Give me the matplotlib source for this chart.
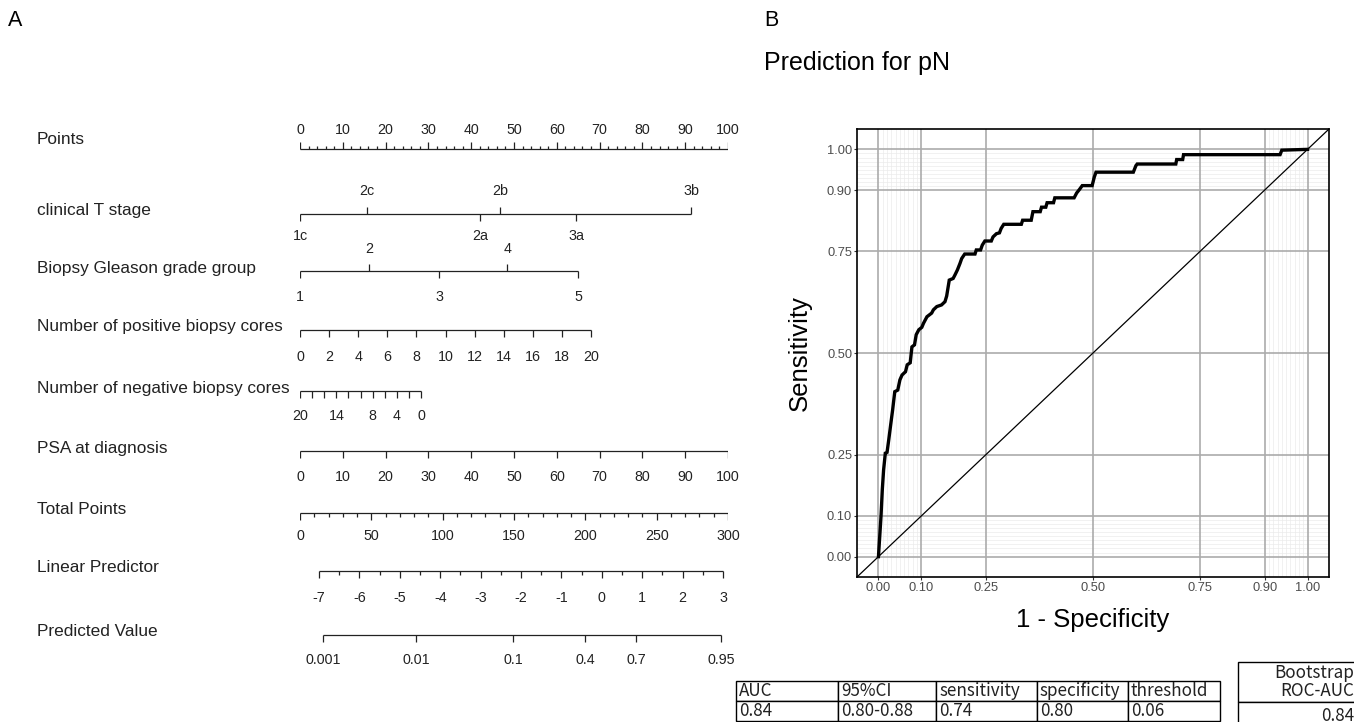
import numpy as np
import matplotlib.pyplot as plt
import matplotlib.transforms as mtransforms

plt.rcParams['font.family'] = ['Liberation Sans', 'DejaVu Sans']

W, H = 1354, 722

# ---------------- nomogram (panel A) ----------------
points_ticks = list(range(0, 101, 10))
t_stage = ['1c', '2c', '2a', '2b', '3a', '3b']
t_stage_pts = [0, 15.7, 42.0, 46.7, 64.5, 91.4]
t_stage_up = [False, True, False, True, False, True]
gleason = [1, 2, 3, 4, 5]
gleason_pts = [0, 16.1, 32.5, 48.4, 65.0]
gleason_up = [False, True, False, True, False]
pos_cores = list(range(0, 21, 2))
pos_pts_per_core = 3.4
neg_cores = list(range(20, -1, -2))
neg_labels = [20, 14, 8, 4, 0]
neg_pts_per_core = 1.415
psa_ticks = list(range(0, 101, 10))
total_ticks = list(range(0, 301, 50))
total_minor = [v for v in range(0, 301, 10) if v % 50]
lp_ticks = list(range(-7, 4))
lp_minor = [v + 0.5 for v in range(-7, 3)]
lp_intercept = -7.470
lp_slope = 0.03531
pred_ticks = [0.001, 0.01, 0.1, 0.4, 0.7, 0.95]
pred_labels = ['0.001', '0.01', '0.1', '0.4', '0.7', '0.95']

row_names = ['Points', 'clinical T stage', 'Biopsy Gleason grade group',
             'Number of positive biopsy cores', 'Number of negative biopsy cores',
             'PSA at diagnosis', 'Total Points', 'Linear Predictor', 'Predicted Value']

# ---------------- ROC (panel B) ----------------
fpr = [0.000, 0.003, 0.006, 0.009, 0.012, 0.016, 0.020, 0.024, 0.030, 0.033,
       0.038, 0.045, 0.050, 0.055, 0.063, 0.067, 0.074, 0.078, 0.084, 0.088,
       0.094, 0.101, 0.105, 0.113, 0.124, 0.128, 0.136, 0.147, 0.155, 0.159,
       0.165, 0.174, 0.178, 0.184, 0.190, 0.194, 0.201, 0.225, 0.228, 0.238,
       0.242, 0.248, 0.263, 0.267, 0.275, 0.282, 0.286, 0.292, 0.333, 0.336,
       0.356, 0.360, 0.377, 0.380, 0.390, 0.393, 0.408, 0.411, 0.456, 0.462,
       0.468, 0.475, 0.498, 0.503, 0.507, 0.594, 0.600, 0.603, 0.693, 0.695,
       0.709, 0.711, 0.936, 0.940, 1.000]
tpr = [0.000, 0.050, 0.100, 0.165, 0.213, 0.254, 0.256, 0.287, 0.336, 0.360,
       0.405, 0.409, 0.434, 0.446, 0.454, 0.471, 0.476, 0.515, 0.520, 0.545,
       0.557, 0.563, 0.573, 0.589, 0.598, 0.606, 0.614, 0.618, 0.626, 0.640,
       0.679, 0.683, 0.691, 0.704, 0.720, 0.732, 0.743, 0.743, 0.753, 0.753,
       0.765, 0.775, 0.775, 0.785, 0.793, 0.795, 0.806, 0.816, 0.816, 0.826,
       0.826, 0.847, 0.847, 0.858, 0.858, 0.869, 0.869, 0.881, 0.881, 0.893,
       0.901, 0.911, 0.911, 0.932, 0.944, 0.944, 0.960, 0.964, 0.964, 0.975,
       0.975, 0.987, 0.987, 0.998, 1.000]
roc_breaks = [0, 0.1, 0.25, 0.5, 0.75, 0.9, 1.0]

table_header = ['AUC', '95%CI', 'sensitivity', 'specificity', 'threshold']
table_values = ['0.84', '0.80-0.88', '0.74', '0.80', '0.06']
boot_header = 'Bootstrap\nROC-AUC'
boot_value = '0.84'

fig = plt.figure(figsize=(W / 100, H / 100), dpi=100)

# nomogram axes: x in points (0-100), y in pixel rows
ax = fig.add_axes([300 / W, 0, 428 / W, 1])
ax.set_xlim(0, 100)
ax.set_ylim(H, 0)
ax.axis('off')
lc = '#222222'
lw = 0.9
tk = 7
fs_tick = 10.3
fs_lab = 12.4
lab_tr = mtransforms.blended_transform_factory(fig.transFigure, ax.transData)


def line(y, xs):
    ax.hlines(y, min(xs), max(xs), color=lc, lw=lw)


def ticks(y, xs, length=tk, up=False):
    s = -1 if up else 1
    ax.vlines(xs, y, y + s * length, color=lc, lw=lw)


def labels(y, xs, labs, up=False, off=None):
    if off is None:
        off = 20 if up else 25
    s = -1 if up else 1
    for x, l in zip(xs, labs):
        ax.text(x, y + s * off, str(l), ha='center', va='center', fontsize=fs_tick, color=lc)


rows_y = [149, 214, 271, 330, 391, 451, 513, 571, 635]
for name, y in zip(row_names, rows_y):
    ly = y - 9 if name == 'Points' else y - 3
    ax.text(37 / W, ly, name, transform=lab_tr, ha='left', va='center', fontsize=fs_lab, color=lc)

# Points
y = rows_y[0]
line(y, [0, 100])
ticks(y, points_ticks, up=True)
ticks(y, [v for v in range(0, 101, 2) if v % 10], length=3, up=True)
labels(y, points_ticks, points_ticks, up=True, off=19)

# clinical T stage
y = rows_y[1]
line(y, t_stage_pts)
for lab, p, u in zip(t_stage, t_stage_pts, t_stage_up):
    ticks(y, [p], up=u)
    labels(y, [p], [lab], up=u, off=23 if u else 22)

# Gleason
y = rows_y[2]
line(y, gleason_pts)
for lab, p, u in zip(gleason, gleason_pts, gleason_up):
    ticks(y, [p], up=u)
    labels(y, [p], [lab], up=u, off=22 if u else 26)

# positive cores
y = rows_y[3]
pp = [c * pos_pts_per_core for c in pos_cores]
line(y, pp)
ticks(y, pp)
labels(y, pp, pos_cores, off=27)

# negative cores
y = rows_y[4]
npts = [(20 - c) * neg_pts_per_core for c in neg_cores]
line(y, npts)
ticks(y, npts)
labels(y, [(20 - c) * neg_pts_per_core for c in neg_labels], neg_labels)

# PSA
y = rows_y[5]
line(y, psa_ticks)
ticks(y, psa_ticks)
labels(y, psa_ticks, psa_ticks, off=26)

# Total points
y = rows_y[6]
tp = [v / 3 for v in total_ticks]
line(y, tp)
ticks(y, tp)
ticks(y, [v / 3 for v in total_minor], length=3.5)
labels(y, tp, total_ticks, off=23)


def lp_to_pts(lp):
    return (np.asarray(lp) - lp_intercept) / lp_slope / 3


# Linear predictor
y = rows_y[7]
lpp = lp_to_pts(lp_ticks)
line(y, lpp)
ticks(y, lpp)
ticks(y, lp_to_pts(lp_minor), length=3.5)
labels(y, lpp, lp_ticks, off=27)

# Predicted value
y = rows_y[8]
pv = np.array(pred_ticks)
pvp = lp_to_pts(np.log(pv / (1 - pv)))
line(y, pvp)
ticks(y, pvp)
labels(y, pvp, pred_labels, off=25)

# ---------------- ROC axes ----------------
ax2 = fig.add_axes([857 / W, 1 - 577 / H, 472 / W, 448 / H])
ax2.set_xlim(-0.05, 1.05)
ax2.set_ylim(-0.05, 1.05)
minor = [v / 100 for v in list(range(1, 10)) + list(range(91, 100))]
for m in minor:
    ax2.axvline(m, color='#ebebeb', lw=0.5, zorder=0)
    ax2.axhline(m, color='#ebebeb', lw=0.5, zorder=0)
for b in roc_breaks:
    ax2.axvline(b, color='#ababab', lw=1.2, zorder=1)
    ax2.axhline(b, color='#ababab', lw=1.2, zorder=1)
ax2.axline((0, 0), (1, 1), color='black', lw=0.9, zorder=2)
ax2.plot(fpr, tpr, color='black', lw=2.4, zorder=3, solid_joinstyle='miter')
ax2.set_xticks(roc_breaks)
ax2.set_yticks(roc_breaks)
ax2.set_xticklabels(['%.2f' % b for b in roc_breaks])
ax2.set_yticklabels(['%.2f' % b for b in roc_breaks])
ax2.tick_params(labelsize=9.3, labelcolor='#4d4d4d', color='#333333', length=2, width=0.8, pad=1.5)
for sp in ax2.spines.values():
    sp.set_color('black')
    sp.set_linewidth(1.2)

fig.text(800 / W, 1 - 353 / H, 'Sensitivity', rotation=90, ha='center', va='center', fontsize=18.5)
fig.text(1093 / W, 1 - 620 / H, '1 - Specificity', ha='center', va='center', fontsize=18.5)
fig.text(764 / W, 1 - 70 / H, 'Prediction for pN', ha='left', va='baseline', fontsize=18)
fig.text(8 / W, 1 - 26 / H, 'A', ha='left', va='baseline', fontsize=15.5)
fig.text(764 / W, 1 - 26 / H, 'B', ha='left', va='baseline', fontsize=15.5)

# ---------------- table ----------------
axt = fig.add_axes([0, 0, 1, 1])
axt.axis('off')
axt.patch.set_alpha(0)
cols = [736, 838, 936, 1037, 1128, 1220]
widths = np.diff(cols)
tbl = axt.table(cellText=[table_header, table_values], colWidths=list(widths / widths.sum()),
                cellLoc='left', bbox=[cols[0] / W, 1 - 721 / H, (cols[-1] - cols[0]) / W, 40 / H])
tbl.auto_set_font_size(False)
tbl.set_fontsize(12.3)
for c in tbl.get_celld().values():
    c.PAD = 0.03
    c.set_linewidth(1)
    c.get_text().set_family(['Noto Sans CJK JP', 'DejaVu Sans'])
    c.get_text().set_color('#222222')

bt = axt.table(cellText=[[boot_header], [boot_value]], cellLoc='right',
               bbox=[1238 / W, 1 - 730 / H, 119 / W, 68 / H])
bt.auto_set_font_size(False)
bt.set_fontsize(12.3)
bc = bt.get_celld()
bc[(0, 0)].set_height(40)
bc[(1, 0)].set_height(28)
for c in bc.values():
    c.PAD = 0.02
    c.set_linewidth(1)
    c.get_text().set_family(['Noto Sans CJK JP', 'DejaVu Sans'])
    c.get_text().set_color('#222222')
    c.get_text().set_linespacing(0.95)

fig.savefig('out.png', dpi=100)
